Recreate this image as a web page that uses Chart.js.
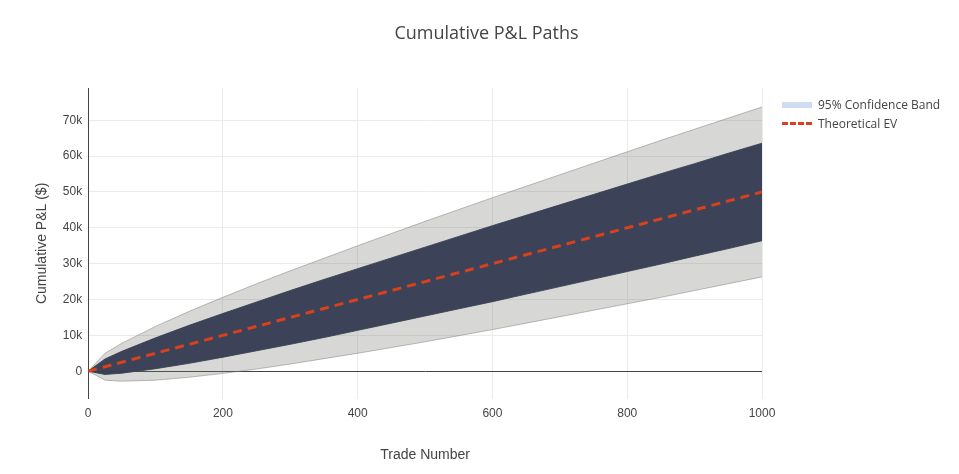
<!DOCTYPE html>
<html>
<head>
<meta charset="utf-8">
<script src="https://cdn.jsdelivr.net/npm/chart.js@4"></script>
<style>
body { margin: 0; background: #fff; font-family: "Open Sans", sans-serif; }
#wrap { position: relative; width: 959px; height: 474px; }
.title { position: absolute; left: 0; width: 973px; top: 20px; text-align: center; font-size: 18px; color: #444; }
.legend { position: absolute; left: 782px; top: 95px; font-size: 12px; color: #444; }
.legend div { display: flex; align-items: center; height: 19px; }
.legend i { display: inline-block; width: 30px; margin-right: 6px; }
</style>
</head>
<body>
<div id="wrap">
<canvas id="chart" width="959" height="474"></canvas>
<div class="title">Cumulative P&amp;L Paths</div>
<div class="legend">
  <div><i style="height:6px;background:rgba(176,196,235,0.6)"></i>95% Confidence Band</div>
  <div><i style="border-top:3px dashed #d9401c"></i>Theoretical EV</div>
</div>
</div>
<script>
const trades = [0, 25, 50, 100, 150, 200, 250, 300, 350, 400, 450, 500, 550, 600, 650, 700, 750, 800, 850, 900, 950, 1000];
const evLine = [0, 1250, 2500, 5000, 7500, 10000, 12500, 15000, 17500, 20000, 22500, 25000, 27500, 30000, 32500, 35000, 37500, 40000, 42500, 45000, 47500, 50000];
const bandUpper = [0, 3400, 5550, 9300, 12800, 16100, 19300, 22500, 25600, 28600, 31600, 34600, 37600, 40600, 43500, 46400, 49300, 52200, 55100, 57900, 60800, 63600];
const bandLower = [0, -900, -550, 700, 2200, 3900, 5700, 7500, 9400, 11400, 13400, 15400, 17400, 19400, 21500, 23600, 25700, 27800, 29900, 32100, 34200, 36400];
// outermost paths
const pathMax = [0, 5000, 7800, 12500, 16700, 20600, 24400, 28000, 31500, 35000, 38400, 41800, 45100, 48400, 51600, 54800, 58000, 61200, 64400, 67500, 70600, 73700];
const pathMin = [0, -2500, -2800, -2500, -1700, -600, 600, 2000, 3500, 5000, 6600, 8200, 9900, 11600, 13400, 15200, 17000, 18800, 20600, 22500, 24400, 26300];
const yTicks = [0, 10000, 20000, 30000, 40000, 50000, 60000, 70000];
const xTicks = [0, 200, 400, 600, 800, 1000];

const pts = (arr) => trades.map((t, i) => ({ x: t, y: arr[i] }));

const config = {
    type: "line",
    data: {
        datasets: [
            { data: pts(pathMax), order: 5, borderColor: "rgba(120,120,120,0.6)", borderWidth: 0.8, pointRadius: 0, fill: false },
            { data: pts(pathMin), order: 4, borderColor: "rgba(120,120,120,0.6)", borderWidth: 0.8, pointRadius: 0, fill: "-1", backgroundColor: "rgba(110,110,105,0.28)" },
            { data: pts(bandUpper), order: 3, borderColor: "rgba(60,66,80,0.9)", borderWidth: 1, pointRadius: 0, fill: false },
            { data: pts(bandLower), order: 2, borderColor: "rgba(60,66,80,0.9)", borderWidth: 1, pointRadius: 0, fill: "-1", backgroundColor: "rgba(55,62,85,0.97)" },
            { data: pts(evLine), order: 0, borderColor: "#d9401c", borderWidth: 3, borderDash: [9, 6], pointRadius: 0, fill: false },
        ],
    },
    options: {
        responsive: false,
        animation: false,
        layout: { padding: { left: 30, right: 197, top: 88, bottom: 6 } },
        plugins: {
            legend: { display: false },
            tooltip: { enabled: false },
        },
        scales: {
            x: {
                type: "linear", min: 0, max: 1000,
                afterBuildTicks: (s) => { s.ticks = xTicks.map((v) => ({ value: v })); },
                grid: { color: "#ebebeb", drawTicks: false },
                border: { display: false },
                ticks: { color: "#444", font: { size: 12 }, padding: 8, callback: (v) => String(v) },
                title: { display: true, text: "Trade Number", color: "#444", font: { size: 14 }, padding: { top: 18 } },
            },
            y: {
                min: -7700, max: 79000,
                afterBuildTicks: (s) => { s.ticks = yTicks.map((v) => ({ value: v })); },
                grid: { color: (c) => (c.tick && c.tick.value === 0 ? "#444" : "#ebebeb"), drawTicks: false },
                border: { display: true, color: "#444" },
                ticks: { color: "#444", font: { size: 12 }, padding: 6, callback: (v) => (v === 0 ? "0" : v / 1000 + "k") },
                title: { display: true, text: "Cumulative P&L ($)", color: "#444", font: { size: 14 }, padding: { bottom: 6 } },
            },
        },
    },
};

new Chart(document.getElementById("chart"), config);
</script>
</body>
</html>
